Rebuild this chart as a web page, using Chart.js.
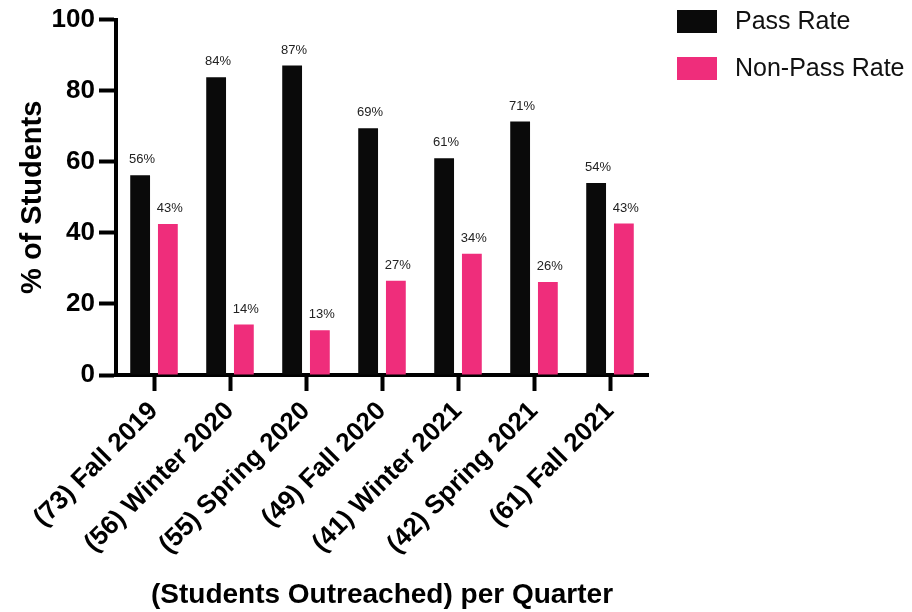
<!DOCTYPE html>
<html>
<head>
<meta charset="utf-8">
<script src="https://cdn.jsdelivr.net/npm/chart.js@4.4.1/dist/chart.umd.min.js"></script>
<style>
    html, body { margin: 0; padding: 0; background: #ffffff; }
    #wrap { width: 912px; height: 612px; }
</style>
</head>
<body>
<div id="wrap"><canvas id="chart" width="912" height="612"></canvas></div>
<script>
// Chart data
const quarters = ['(73) Fall 2019', '(56) Winter 2020', '(55) Spring 2020', '(49) Fall 2020',
                  '(41) Winter 2021', '(42) Spring 2021', '(61) Fall 2021'];
const passRate = [56.2, 83.8, 87.1, 69.4, 61.0, 71.3, 54.0];
const nonPassRate = [42.5, 14.2, 12.6, 26.5, 34.1, 26.2, 42.6];
const yTicks = [0, 20, 40, 60, 80, 100];

const FONT = 'Liberation Sans, Arial, Helvetica, sans-serif';
const BLACK = '#0a0a0a';
const PINK = '#ef2d7b';

// value labels above each bar ("56%")
const valueLabels = {
    id: 'valueLabels',
    afterDatasetsDraw(chart) {
        const ctx = chart.ctx;
        ctx.save();
        ctx.font = '13px ' + FONT;
        ctx.fillStyle = '#222';
        ctx.textAlign = 'center';
        ctx.textBaseline = 'bottom';
        chart.data.datasets.forEach((ds, i) => {
            chart.getDatasetMeta(i).data.forEach((bar, j) => {
                ctx.fillText(Math.round(ds.data[j]) + '%', bar.x + 2, bar.y - 9);
            });
        });
        ctx.restore();
    }
};

// legend in the top right corner
const sideLegend = {
    id: 'sideLegend',
    afterDraw(chart) {
        const ctx = chart.ctx;
        ctx.save();
        ctx.font = '25px ' + FONT;
        ctx.textBaseline = 'middle';
        ctx.textAlign = 'left';
        chart.data.datasets.forEach((ds, i) => {
            const top = 10 + i * 47;
            ctx.fillStyle = ds.backgroundColor;
            ctx.fillRect(677, top, 40, 23);
            ctx.fillStyle = '#111';
            ctx.fillText(ds.label, 735, top + 12);
        });
        ctx.restore();
    }
};

new Chart(document.getElementById('chart'), {
    type: 'bar',
    data: {
        labels: quarters,
        datasets: [{
            label: 'Pass Rate',
            data: passRate,
            backgroundColor: BLACK,
            categoryPercentage: 0.73,
            barPercentage: 0.714
        }, {
            label: 'Non-Pass Rate',
            data: nonPassRate,
            backgroundColor: PINK,
            categoryPercentage: 0.73,
            barPercentage: 0.714
        }]
    },
    options: {
        responsive: false,
        animation: false,
        layout: {
            padding: { top: 15, right: 264, bottom: 0, left: 0 }
        },
        plugins: {
            legend: { display: false },
            tooltip: { enabled: false }
        },
        scales: {
            x: {
                afterFit(scale) { scale.height = 237; },
                grid: {
                    offset: false,
                    drawOnChartArea: false,
                    drawTicks: true,
                    tickLength: 16,
                    tickWidth: 4,
                    tickColor: '#000'
                },
                border: { display: true, width: 4, color: '#000' },
                ticks: {
                    maxRotation: 45,
                    minRotation: 45,
                    padding: 5,
                    color: '#000',
                    font: { family: FONT, size: 26, weight: 'bold' }
                },
                title: {
                    display: true,
                    text: '(Students Outreached) per Quarter',
                    color: '#000',
                    padding: { top: 0, bottom: 0 },
                    font: { family: FONT, size: 28, weight: 'bold' }
                }
            },
            y: {
                min: 0,
                max: 100,
                afterFit(scale) { scale.width = 116; },
                afterBuildTicks(scale) { scale.ticks = yTicks.map(v => ({ value: v })); },
                grid: {
                    drawOnChartArea: false,
                    drawTicks: true,
                    tickLength: 17,
                    tickWidth: 4,
                    tickColor: '#000'
                },
                border: { display: true, width: 4, color: '#000' },
                ticks: {
                    padding: 4,
                    color: '#000',
                    font: { family: FONT, size: 26, weight: 'bold' }
                },
                title: {
                    display: true,
                    text: '% of Students',
                    color: '#000',
                    padding: { top: 16, bottom: 0 },
                    font: { family: FONT, size: 29, weight: 'bold' }
                }
            }
        }
    },
    plugins: [valueLabels, sideLegend]
});
</script>
</body>
</html>
